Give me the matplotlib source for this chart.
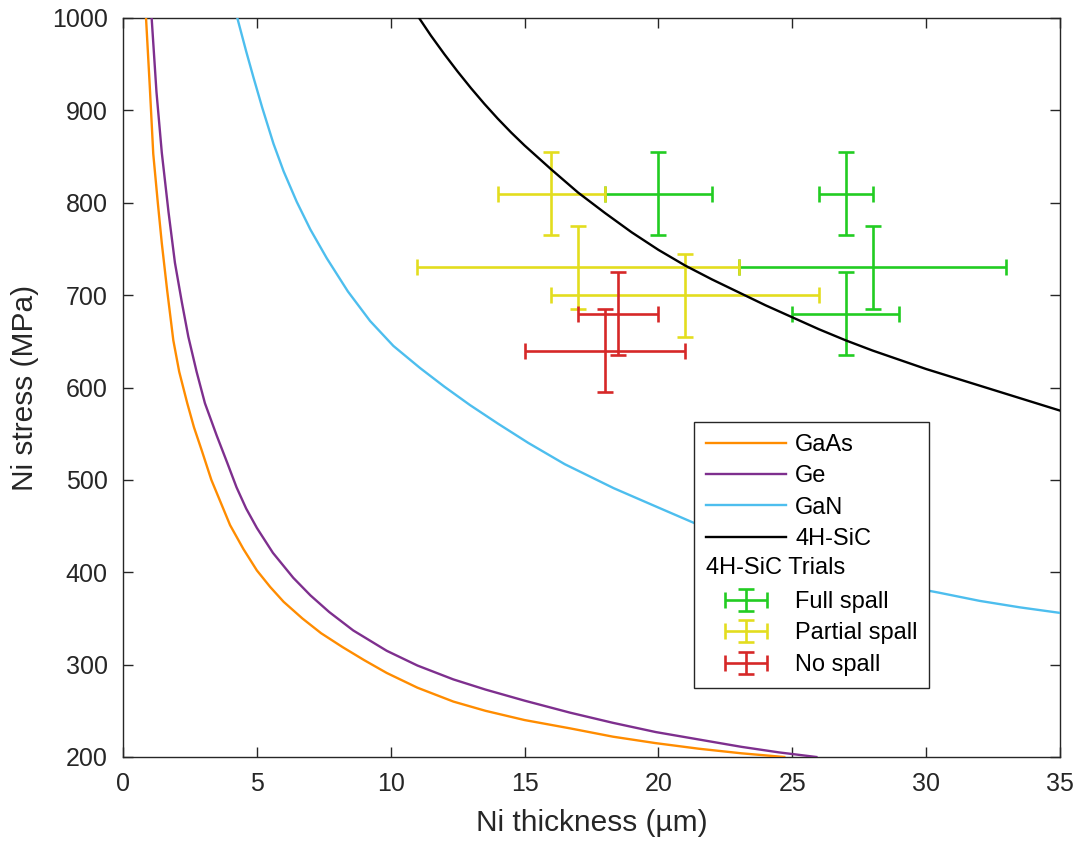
import matplotlib
matplotlib.use("Agg")
import matplotlib.pyplot as plt
from matplotlib.container import ErrorbarContainer
from matplotlib.legend_handler import HandlerBase, HandlerErrorbar
from matplotlib.text import Text

plt.rcParams['font.family'] = ['Liberation Sans', 'DejaVu Sans']

# model curves: Ni thickness (um) vs Ni stress (MPa)
gaas_t = [0.86, 1.0, 1.13, 1.3, 1.45, 1.65, 1.88, 2.1, 2.4, 2.65, 2.94, 3.3, 3.7, 4.0,
          4.5, 5.0, 5.5, 6.0, 6.7, 7.4, 8.2, 9.0, 9.85, 11.0, 12.34, 13.54, 15.0,
          16.7, 18.3, 19.9, 21.5, 23.1, 24.7]
gaas_s = [1000, 926, 853, 800, 756, 705, 651, 617, 583, 557, 532, 500, 472, 451,
          425, 402, 384, 368, 350, 334, 319, 305, 291, 275, 260, 250, 240,
          231, 222, 215, 209, 204, 200]

ge_t = [1.07, 1.25, 1.45, 1.7, 1.94, 2.2, 2.44, 2.75, 3.06, 3.5, 3.9, 4.24, 4.6, 5.0,
        5.6, 6.36, 7.0, 7.7, 8.6, 9.85, 11.0, 12.34, 13.54, 15.0, 16.7, 18.3, 19.9,
        21.5, 23.1, 24.5, 25.9]
ge_s = [1000, 920, 854, 790, 735, 692, 655, 617, 583, 548, 518, 492, 469, 448,
        421, 394, 375, 357, 337, 315, 299, 284, 273, 261, 248, 237, 227,
        219, 211, 205, 200]

gan_t = [4.27, 4.6, 4.87, 5.2, 5.62, 6.0, 6.49, 7.0, 7.61, 8.4, 9.23, 10.1, 11.1, 12.0,
         12.96, 14.0, 15.14, 16.5, 18.33, 20.0, 21.36, 23.0, 25.0, 27.0, 29.0, 30.46,
         32.0, 33.5, 35.0]
gan_s = [1000, 964, 936, 903, 864, 834, 801, 771, 740, 704, 672, 645, 621, 601,
         581, 561, 540, 517, 491, 470, 453, 435, 416, 400, 386, 378,
         369, 362, 356]

sic_t = [11.06, 11.5, 12.0, 12.5, 13.0, 13.5, 14.0, 14.5, 15.0, 16.0, 17.0, 18.0, 19.0,
         20.0, 21.0, 22.0, 23.0, 24.0, 25.0, 26.0, 27.0, 28.0, 29.0, 30.0, 31.0, 32.0,
         33.0, 34.0, 35.0]
sic_s = [1000, 981, 961, 942, 924, 907, 891, 876, 862, 836, 811, 789, 768,
         749, 732, 717, 703, 689, 676, 663, 651, 640, 630, 620, 611, 602,
         593, 584, 575]

# 4H-SiC trials
full_t = [20, 27, 28, 27]
full_s = [810, 810, 730, 680]
full_terr = [2, 1, 5, 2]
full_serr = [45, 45, 45, 45]

part_t = [16, 17, 21]
part_s = [810, 730, 700]
part_terr = [2, 6, 5]
part_serr = [45, 45, 45]

none_t = [18.5, 18]
none_s = [680, 640]
none_terr = [1.5, 3]
none_serr = [45, 45]

dark = '#262626'


class TrialsTitle:
    pass


class HandlerTitle(HandlerBase):
    def create_artists(self, legend, orig_handle, xdescent, ydescent, width, height,
                       fontsize, trans):
        t = Text(-xdescent, -ydescent + height / 2, "4H-SiC Trials", fontsize=fontsize,
                 va='center', ha='left', color='black', transform=trans)
        return [t]


fig = plt.figure(figsize=(10.78, 8.42), dpi=100)
ax = fig.add_axes([123 / 1078, 85 / 842, 937 / 1078, 739 / 842])

l1, = ax.plot(gaas_t, gaas_s, color='#FF8C00', lw=1.7, label='GaAs', zorder=3)
l2, = ax.plot(ge_t, ge_s, color='#7E2F8E', lw=1.7, label='Ge', zorder=3)
l3, = ax.plot(gan_t, gan_s, color='#4DBEEE', lw=1.7, label='GaN', zorder=3)
l4, = ax.plot(sic_t, sic_s, color='black', lw=1.7, label='4H-SiC', zorder=3)

eb_style = dict(fmt='none', elinewidth=1.9, capsize=5.5, capthick=1.9, zorder=2)
e1 = ax.errorbar(full_t, full_s, xerr=full_terr, yerr=full_serr, ecolor='#22CC22', **eb_style)
e2 = ax.errorbar(part_t, part_s, xerr=part_terr, yerr=part_serr, ecolor='#E3DD1F', **eb_style)
e3 = ax.errorbar(none_t, none_s, xerr=none_terr, yerr=none_serr, ecolor='#D62828', **eb_style)

ax.set_xlim(0, 35)
ax.set_ylim(200, 1000)
ax.set_xticks(range(0, 36, 5))
ax.set_yticks(range(200, 1001, 100))
ax.tick_params(direction='in', top=True, right=True, length=7, width=1,
               labelsize=18, colors=dark, pad=11)
for sp in ax.spines.values():
    sp.set_color(dark)
    sp.set_linewidth(1)

ax.set_xlabel('Ni thickness (µm)', fontsize=21.5, color=dark, labelpad=9)
ax.set_ylabel('Ni stress (MPa)', fontsize=21.5, color=dark, labelpad=9)

handles = [l1, l2, l3, l4, TrialsTitle(), e1, e2, e3]
labels = ['GaAs', 'Ge', 'GaN', '4H-SiC', '', 'Full spall', 'Partial spall', 'No spall']
leg = ax.legend(handles, labels, loc='upper left',
                bbox_to_anchor=((694 - 123) / 937, (757 - 422) / 739),
                borderaxespad=0, fontsize=17, frameon=True, fancybox=False,
                framealpha=1, edgecolor=dark, handlelength=3.4, handletextpad=0.38,
                borderpad=0.5, labelspacing=0.40,
                handler_map={TrialsTitle: HandlerTitle(),
                             ErrorbarContainer: HandlerErrorbar(xerr_size=0.9, yerr_size=0.47)})
leg.get_frame().set_linewidth(1.0)
leg.set_zorder(5)

fig.savefig('out.png', dpi=100)
